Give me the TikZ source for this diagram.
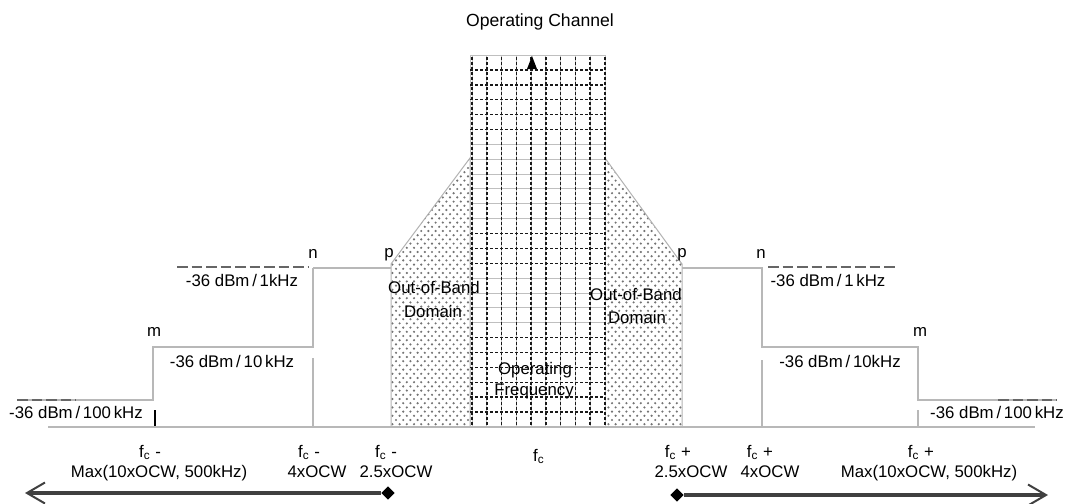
\documentclass[tikz,border=0pt]{standalone}
\usepackage{fontspec}
\setmainfont{Liberation Sans}
\usetikzlibrary{arrows.meta,patterns,shapes.geometric}

% staggered dot fill for the out-of-band regions
\pgfdeclarepatternformonly{oobdots}{\pgfqpoint{-1pt}{-1pt}}{\pgfqpoint{4.6pt}{5.2pt}}{\pgfqpoint{3.6pt}{4.2pt}}{%
  \pgfpathcircle{\pgfqpoint{0pt}{0pt}}{0.6pt}%
  \pgfpathcircle{\pgfqpoint{1.8pt}{2.1pt}}{0.6pt}%
  \pgfusepath{fill}}

\newcommand\fcsym{f\textsubscript{c}}

\begin{document}
\begin{tikzpicture}[x=0.5pt,y=-0.5pt,
  font=\fontsize{8.4}{10}\selectfont,
  lbl/.style={inner sep=0pt,anchor=base},
  level/.style={draw=black!28,line width=0.55pt},
  ext/.style={draw=black!60,line width=1.1pt,dash pattern=on 5.25pt off 2pt},
  gridlight/.style={draw=black!25,line width=0.5pt},
  griddark/.style={draw=black!90,line width=0.75pt,dash pattern=on 1.5pt off 1pt},
  oob/.style={pattern=oobdots,pattern color=black!55,draw=black!30,line width=0.5pt},
  span/.style={draw=black!75,line width=1.6pt,-{Straight Barb[length=9pt,width=10.5pt,line width=1pt]}},
  tipstart/.style={diamond,fill=black,inner sep=0pt,minimum width=6.8pt,minimum height=6.8pt},
]
\useasboundingbox (0,0) rectangle (1067,504);

% out-of-band domains
\path[oob] (391,427) -- (391,264) -- (470,158) -- (470,427) -- cycle;
\path[oob] (605,427) -- (605,158) -- (682,264) -- (682,427) -- cycle;

% operating channel block
\fill[white] (470,55) rectangle (605,427);
\draw[gridlight] (470,55) rectangle (605,427);
\foreach \i in {6,7,8,9,10,11,15,16,17,18}
  \draw[gridlight] (470,{55+14.88*\i}) -- (605,{55+14.88*\i});
\foreach \k in {0,...,9}
  \draw[gridlight] ({472+14.78*\k},55) -- ({472+14.78*\k},427);
\foreach \i in {1,2,3,4,5,12,13,14,19,20,21,22,23,24}
  \draw[griddark] (470,{55+14.88*\i}) -- (605,{55+14.88*\i});
\foreach \k in {0,...,9}
  \draw[griddark] ({472+14.78*\k},57) -- ({472+14.78*\k},427);
\fill (532,56) -- (527,69) -- (537,69) -- cycle;

% emission limit steps, lower side
\draw[level] (313,268) -- (391,268);
\draw[level] (313,268) -- (313,347) -- (153,347) -- (153,400) -- (17,400);
\draw[level] (313,358) -- (313,427);
\draw[ext] (177,267) -- (308,267);
\draw[ext] (17,400) -- (76,400);
\draw[black,line width=0.7pt] (155,410) -- (155,427);

% emission limit steps, upper side
\draw[level] (682,268) -- (762,268) -- (762,347) -- (918,347) -- (918,400) -- (1057,400);
\draw[level] (762,360) -- (762,427);
\draw[level] (918,410) -- (918,427);
\draw[ext] (768,267) -- (897,267);
\draw[ext] (998,400) -- (1057,400);

% frequency axis
\draw[level] (48,427) -- (1035,427);

% labels
\node[lbl,font=\fontsize{8.8}{10}\selectfont] (title) at (540,26) {Operating Channel};
\node[lbl] (nL) at (313,258) {n};
\node[lbl] (pL) at (389,257) {p};
\node[lbl] (pR) at (682,257) {p};
\node[lbl] (nR) at (761,258) {n};
\node[lbl] (mL) at (154,336) {m};
\node[lbl] (mR) at (920,336) {m};

\node[lbl] (limAL) at (242,286) {-36 dBm\,/\,1kHz};
\node[lbl] (limBL) at (232,367) {-36 dBm\,/\,10\,kHz};
\node[lbl] (limCL) at (76,418) {-36 dBm\,/\,100\,kHz};
\node[lbl] (limAR) at (828,286) {-36 dBm\,/\,1\,kHz};
\node[lbl] (limBR) at (840,367) {-36 dBm\,/\,10kHz};
\node[lbl] (limCR) at (997,418) {-36 dBm\,/\,100\,kHz};

\node[lbl] (oobL1) at (434,293) {Out-of-Band};
\node[lbl] (oobL2) at (433,317) {Domain};
\node[lbl] (oobR1) at (636,300) {Out-of-Band};
\node[lbl] (oobR2) at (637,323) {Domain};
\node[lbl] (opf1) at (535,374) {Operating};
\node[lbl] (opf2) at (534,395) {Frequency};

\node[lbl] (fa1) at (150,457) {\fcsym\ -};
\node[lbl] (fa2) at (159,477) {Max(10xOCW, 500kHz)};
\node[lbl] (fb1) at (309,457) {\fcsym\ -};
\node[lbl] (fb2) at (317,477) {4xOCW};
\node[lbl] (fcc1) at (386,457) {\fcsym\ -};
\node[lbl] (fcc2) at (396,477) {2.5xOCW};
\node[lbl] (f0) at (539,461) {\fcsym};
\node[lbl] (fd1) at (678,457) {\fcsym\ +};
\node[lbl] (fd2) at (691,477) {2.5xOCW};
\node[lbl] (fe1) at (760,457) {\fcsym\ +};
\node[lbl] (fe2) at (770,477) {4xOCW};
\node[lbl] (ff1) at (921,457) {\fcsym\ +};
\node[lbl] (ff2) at (929,477) {Max(10xOCW, 500kHz)};

% extent arrows
\node[tipstart] (dL) at (388,493) {};
\coordinate (eL) at (25,493);
\draw[span] (dL) -- (eL);
\node[tipstart] (dR) at (677,495) {};
\coordinate (eR) at (1048,495);
\draw[span] (dR) -- (eR);
\end{tikzpicture}
\end{document}
